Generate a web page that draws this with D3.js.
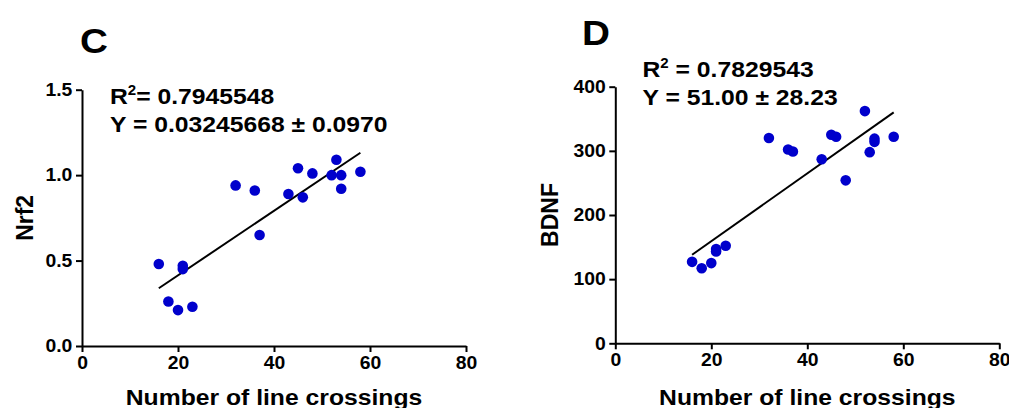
<!DOCTYPE html>
<html>
<head>
<meta charset="utf-8">
<script src="https://cdn.jsdelivr.net/npm/d3@7"></script>
<style>
  body { margin: 0; background: #fff; }
  svg text { font-family: "Liberation Sans", Arial, sans-serif; font-weight: bold; fill: #000; }
</style>
</head>
<body>
<div id="chart"></div>
<script>
// shared x values (line crossings)
let crossings = [16, 18, 20, 21, 21, 23, 32, 36, 37, 43, 45, 46, 48, 52, 53, 54, 54, 58];

// panel C
let nrf2 = [0.48, 0.26, 0.21, 0.47, 0.45, 0.23, 0.94, 0.91, 0.65, 0.89, 1.04, 0.87, 1.01, 1.00, 1.09, 1.00, 0.92, 1.02];
let nrf2Fit = [[16, 0.338], [58, 1.131]];
let nrf2Ticks = [0, 0.5, 1.0, 1.5];

// panel D
let bdnf = [127, 117, 125, 147, 143, 152, 320, 302, 299, 287, 325, 322, 254, 362, 298, 319, 314, 322];
let bdnfFit = [[16, 138], [58, 360]];
let bdnfTicks = [0, 100, 200, 300, 400];

let xTicks = [0, 20, 40, 60, 80];

// the source picture is a bit wider than tall, so text is stretched sideways
let sx = 1.075;
let font = '"Liberation Sans", Arial, sans-serif';

var svg = d3.select("#chart").append("svg")
    .attr("width", 1009)
    .attr("height", 408);

function label(g, x, y, size, txt) {
    return g.append("text")
        .attr("transform", `translate(${x},${y}) scale(${sx},1)`)
        .style("font-size", size + "px")
        .text(txt);
}

function panel(opt) {
    var g = svg.append("g");

    var x = d3.scaleLinear().domain([0, 80]).range([opt.left, opt.left + 384]);
    var y = d3.scaleLinear().domain(opt.yDomain).range([opt.bottom, opt.top]);

    var yAxis = g.append("g")
        .attr("transform", `translate(${opt.left},0)`)
        .call(d3.axisLeft(y).tickValues(opt.yTicks).tickFormat(opt.yFormat).tickSize(6).tickSizeOuter(0).tickPadding(3));

    var xAxis = g.append("g")
        .attr("transform", `translate(0,${opt.bottom})`)
        .call(d3.axisBottom(x).tickValues(xTicks).tickSize(6).tickSizeOuter(0).tickPadding(4));

    [yAxis, xAxis].forEach(a => {
        a.attr("font-size", null).attr("font-family", null);
        a.select(".domain").attr("stroke", "#000").attr("stroke-width", 2);
        a.selectAll(".tick line").attr("stroke", "#000").attr("stroke-width", 2);
        a.selectAll("text")
            .attr("transform", `scale(${sx},1)`)
            .attr("font-size", 18)
            .style("font-size", "18px")
            .style("font-weight", "bold")
            .style("font-family", font);
    });

    // fit line
    g.append("line")
        .attr("x1", x(opt.fit[0][0])).attr("y1", y(opt.fit[0][1]))
        .attr("x2", x(opt.fit[1][0])).attr("y2", y(opt.fit[1][1]))
        .attr("stroke", "#000").attr("stroke-width", 2);

    g.append("g").selectAll("circle")
        .data(opt.values)
        .join("circle")
        .attr("cx", (d, i) => x(crossings[i]))
        .attr("cy", d => y(d))
        .attr("r", 5.3)
        .attr("fill", "#0000cc");

    // panel letter
    label(g, opt.letterX, opt.letterY, 36, opt.letter);

    // stats text
    var r2 = label(g, opt.statsX, opt.statsY, 23, "R");
    r2.append("tspan").attr("dy", -9).style("font-size", "14px").text("2");
    r2.append("tspan").attr("dy", 9).text(opt.r2);

    label(g, opt.statsX, opt.statsY + 28, 23, opt.eq);

    // axis titles
    g.append("text")
        .attr("transform", `translate(${opt.yLabelX},${(opt.top + opt.bottom) / 2}) rotate(-90)`)
        .attr("text-anchor", "middle")
        .style("font-size", "23px")
        .text(opt.yLabel);

    label(g, x(40), 405, 23, "Number of line crossings")
        .attr("text-anchor", "middle");
}

panel({
    left: 82, top: 89.7, bottom: 346,
    yDomain: [0, 1.5], yTicks: nrf2Ticks, yFormat: d3.format(".1f"),
    values: nrf2, fit: nrf2Fit,
    letter: "C", letterX: 80, letterY: 53,
    statsX: 110, statsY: 104,
    r2: "= 0.7945548", eq: "Y = 0.03245668 \u00b1 0.0970",
    yLabel: "Nrf2", yLabelX: 33
});

panel({
    left: 615.3, top: 86.7, bottom: 343.3,
    yDomain: [0, 400], yTicks: bdnfTicks, yFormat: d3.format("d"),
    values: bdnf, fit: bdnfFit,
    letter: "D", letterX: 582, letterY: 45,
    statsX: 642.5, statsY: 77,
    r2: " = 0.7829543", eq: "Y = 51.00 \u00b1 28.23",
    yLabel: "BDNF", yLabelX: 558
});
</script>
</body>
</html>
